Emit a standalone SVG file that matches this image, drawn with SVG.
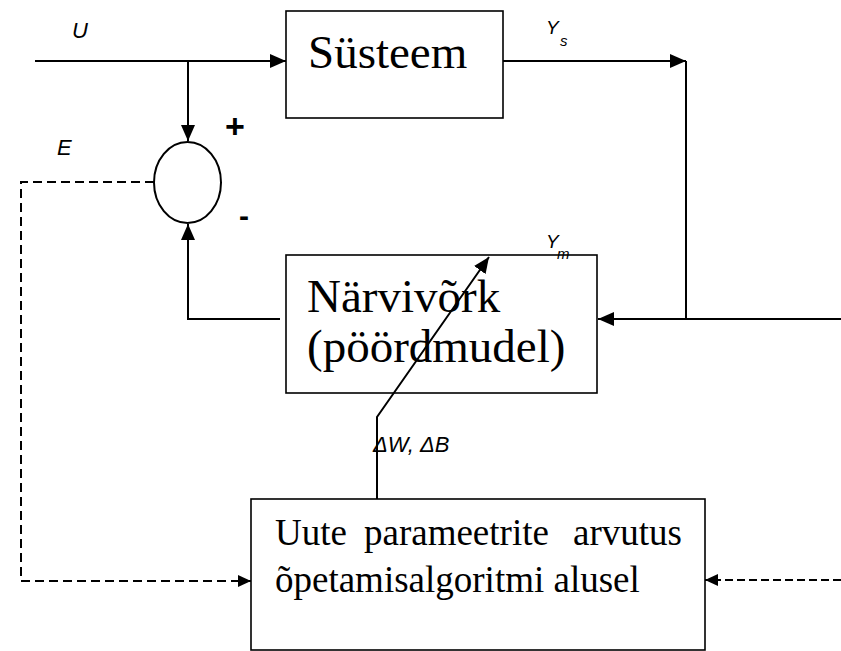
<svg xmlns="http://www.w3.org/2000/svg" width="841" height="651" viewBox="0 0 841 651">
  <style>
    .box { fill: #fff; stroke: #000; stroke-width: 1.6; }
    .wire { fill: none; stroke: #000; stroke-width: 2; }
    .dash { fill: none; stroke: #000; stroke-width: 2; stroke-dasharray: 9 5; }
    .dash2 { fill: none; stroke: #000; stroke-width: 2; stroke-dasharray: 8 4; }
    .title { font-family: "Liberation Serif", "Times New Roman", serif; fill: #000; }
    .lbl { font-family: "Liberation Sans", Arial, sans-serif; font-style: italic; fill: #000; }
    .sign { font-family: "Liberation Sans", Arial, sans-serif; font-weight: bold; fill: #000; }
  </style>
  <defs>
    <marker id="arrow" markerUnits="userSpaceOnUse" markerWidth="16" markerHeight="14" refX="16" refY="7" orient="auto">
      <path d="M0,0 L16,7 L0,14 z" fill="#000"/>
    </marker>
    <marker id="arrowSmall" markerUnits="userSpaceOnUse" markerWidth="13" markerHeight="12" refX="13" refY="6" orient="auto">
      <path d="M0,0 L13,6 L0,12 z" fill="#000"/>
    </marker>
  </defs>

  <rect width="841" height="651" fill="#fff"/>

  <g id="sum">
    <ellipse cx="187.5" cy="182.5" rx="33.5" ry="40.5" fill="#fff" stroke="#000" stroke-width="2"/>
    <text class="sign" x="235" y="138" font-size="34" text-anchor="middle">+</text>
    <text class="sign" x="244" y="226" font-size="30" text-anchor="middle">-</text>
  </g>

  <g id="system">
    <rect class="box" x="286" y="11" width="217" height="107"/>
    <text class="title" x="308" y="68" font-size="47">Süsteem</text>
  </g>

  <g id="network">
    <rect class="box" x="286" y="255" width="311" height="138"/>
    <text class="title" x="307" y="312" font-size="47">Närvivõrk</text>
    <text class="title" x="307" y="362" font-size="47">(pöördmudel)</text>
  </g>

  <g id="training">
    <rect class="box" x="251" y="499" width="454" height="151"/>
    <text class="title" x="275" y="545" font-size="37">Uute</text>
    <text class="title" x="364" y="545" font-size="37">parameetrite</text>
    <text class="title" x="682" y="545" font-size="37" text-anchor="end">arvutus</text>
    <text class="title" x="275" y="592" font-size="37">õpetamisalgoritmi alusel</text>
  </g>

  <g id="labels">
    <text class="lbl" x="72" y="38" font-size="22">U</text>
    <text class="lbl" x="57" y="155" font-size="22">E</text>
    <text class="lbl" x="546" y="34" font-size="19">Y</text>
    <text class="lbl" x="560" y="46" font-size="15">s</text>
    <text class="lbl" x="546" y="248" font-size="19">Y</text>
    <text class="lbl" x="557" y="259" font-size="15">m</text>
    <text class="lbl" x="373" y="452" font-size="22">ΔW, ΔB</text>
  </g>

  <!-- connectors, drawn last so the update arrow crosses the network block -->
  <g id="connectors">
    <!-- input U into the plant -->
    <path class="wire" d="M35,61 H286" marker-end="url(#arrow)"/>
    <!-- U branch down to the summing junction (+) -->
    <path class="wire" d="M188,61 V141" marker-end="url(#arrow)"/>
    <!-- plant output Ys -->
    <path class="wire" d="M503,61 H686" marker-end="url(#arrow)"/>
    <path class="wire" d="M686,61 V319"/>
    <!-- feedback into the network -->
    <path class="wire" d="M841,319 H598" marker-end="url(#arrow)"/>
    <!-- network output Ym to the summing junction (-) -->
    <path class="wire" d="M280,319 H188 V224" marker-end="url(#arrow)"/>
    <!-- weight update arrow through the network -->
    <path class="wire" d="M377,499 V417 L489,257" marker-end="url(#arrow)"/>
    <!-- error E to the training block -->
    <path class="dash" d="M154,182 H21 V581 H251" marker-end="url(#arrowSmall)"/>
    <!-- dashed input from the right into the training block -->
    <path class="dash2" d="M841,580 H705" marker-end="url(#arrowSmall)"/>
  </g>
</svg>
